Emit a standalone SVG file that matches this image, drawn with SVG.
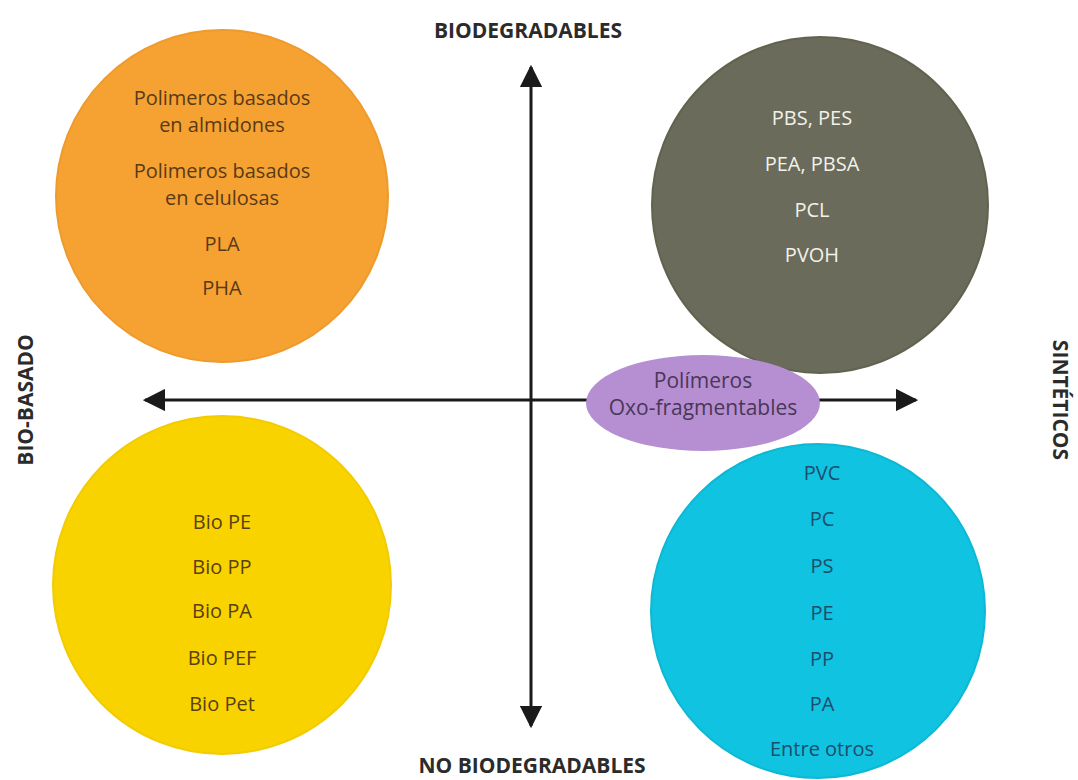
<svg xmlns="http://www.w3.org/2000/svg" width="1078" height="780" viewBox="0 0 1078 780">
<defs>
<marker id="ah" viewBox="0 0 10 10" refX="9" refY="5" markerWidth="7.5" markerHeight="7.5" markerUnits="strokeWidth" orient="auto">
<path d="M0,0 L10,5 L0,10 z" fill="#1a1a1a"/>
</marker>
</defs>
<style>
.ax{stroke:#1a1a1a;stroke-width:3;fill:none}
.lbl{font-family:"Open Sans","Liberation Sans",sans-serif;font-weight:bold;font-size:21px;fill:#2b2b2b;text-anchor:middle}
.t{font-family:"Open Sans","Liberation Sans",sans-serif;font-size:20px;text-anchor:middle}
.or{fill:#5a3a16}
.gr{fill:#f2f2ea}
.ye{fill:#5a4010}
.cy{fill:#1d4d6e}
.pu{fill:#4a3658;font-size:21px}
</style>
<rect width="1078" height="780" fill="#ffffff"/>
<g id="connectors">
<line class="ax" x1="531" y1="400" x2="531" y2="67" marker-end="url(#ah)"/>
<line class="ax" x1="531" y1="400" x2="531" y2="726" marker-end="url(#ah)"/>
<line class="ax" x1="531" y1="400" x2="145" y2="400" marker-end="url(#ah)"/>
<line class="ax" x1="531" y1="400" x2="916" y2="400" marker-end="url(#ah)"/>
</g>
<g id="orange">
<circle cx="222" cy="196" r="166" fill="#f5a233" stroke="#ee9a2c" stroke-width="2"/>
<text class="t or" x="222" y="105">Polimeros basados</text>
<text class="t or" x="222" y="132">en almidones</text>
<text class="t or" x="222" y="178">Polimeros basados</text>
<text class="t or" x="222" y="205">en celulosas</text>
<text class="t or" x="222" y="251">PLA</text>
<text class="t or" x="222" y="295">PHA</text>
</g>
<g id="gray">
<circle cx="820" cy="205" r="168" fill="#6a6b5b" stroke="#62634f" stroke-width="2"/>
<text class="t gr" x="812" y="125">PBS, PES</text>
<text class="t gr" x="812" y="171">PEA, PBSA</text>
<text class="t gr" x="812" y="217">PCL</text>
<text class="t gr" x="812" y="262">PVOH</text>
</g>
<g id="yellow">
<circle cx="222" cy="585" r="169" fill="#f9d300" stroke="#f2cb00" stroke-width="2"/>
<text class="t ye" x="222" y="529">Bio PE</text>
<text class="t ye" x="222" y="574">Bio PP</text>
<text class="t ye" x="222" y="618">Bio PA</text>
<text class="t ye" x="222" y="665">Bio PEF</text>
<text class="t ye" x="222" y="711">Bio Pet</text>
</g>
<g id="cyan">
<circle cx="818" cy="611" r="167" fill="#10c3e0" stroke="#0db8d4" stroke-width="2"/>
<text class="t cy" x="822" y="480">PVC</text>
<text class="t cy" x="822" y="526">PC</text>
<text class="t cy" x="822" y="573">PS</text>
<text class="t cy" x="822" y="620">PE</text>
<text class="t cy" x="822" y="666">PP</text>
<text class="t cy" x="822" y="711">PA</text>
<text class="t cy" x="822" y="756">Entre otros</text>
</g>
<g id="purple">
<ellipse cx="703" cy="403" rx="117" ry="48" fill="#b68fd2"/>
<text class="t pu" x="703" y="388">Polímeros</text>
<text class="t pu" x="703" y="415">Oxo-fragmentables</text>
</g>
<g id="labels">
<text class="lbl" x="528" y="38">BIODEGRADABLES</text>
<text class="lbl" x="532" y="773">NO BIODEGRADABLES</text>
<text class="lbl" transform="translate(33,400) rotate(-90)">BIO-BASADO</text>
<text class="lbl" transform="translate(1053,400) rotate(90)">SINTÉTICOS</text>
</g>
</svg>
